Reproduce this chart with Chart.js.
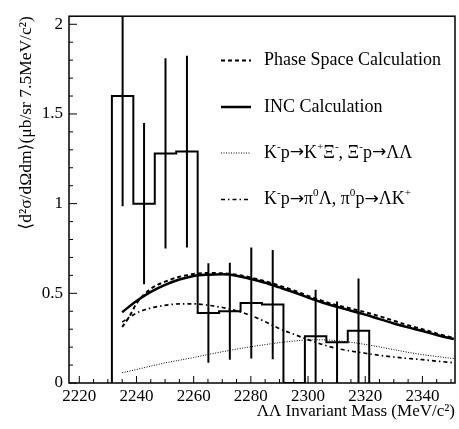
<!DOCTYPE html>
<html>
<head>
<meta charset="utf-8">
<script src="https://cdn.jsdelivr.net/npm/chart.js@4.4.1/dist/chart.umd.min.js"></script>
<style>
  html, body { margin: 0; padding: 0; background: #fff; }
  #wrap { width: 459px; height: 429px; }
</style>
</head>
<body>
<div id="wrap"><canvas id="massChart" width="459" height="429"></canvas></div>
<script>
// --- DATA ---
// histogram: 7.5 MeV bins starting at the LambdaLambda threshold
const binLow    = [2231.4, 2238.9, 2246.4, 2253.9, 2261.4, 2268.9, 2276.4, 2283.9, 2291.4, 2298.9, 2306.4, 2313.9];
const binCenter = [2235.15, 2242.65, 2250.15, 2257.65, 2265.15, 2272.65, 2280.15, 2287.65, 2295.15, 2302.65, 2310.15, 2317.65];
const histEnd = 2321.4;
const binValue = [1.60, 1.00, 1.28, 1.29, 0.39, 0.40, 0.446, 0.437, 0, 0.26, 0.227, 0.292];
const binError = [0.615, 0.45, 0.53, 0.535, 0.277, 0.27, 0.31, 0.305, 0, 0.26, 0.227, 0.29];

// calculated curves
const curveMass = [2235, 2240, 2245, 2250, 2255, 2260, 2265, 2270, 2275, 2280, 2285, 2290,
                   2295, 2300, 2305, 2310, 2315, 2320, 2325, 2330, 2335, 2340, 2345, 2351];
const incCalc = [0.395, 0.457, 0.508, 0.547, 0.577, 0.597, 0.604, 0.606, 0.598, 0.580, 0.559, 0.533,
                 0.506, 0.476, 0.449, 0.425, 0.403, 0.381, 0.356, 0.332, 0.310, 0.290, 0.268, 0.245];
const kxiCalc = [0.057, 0.075, 0.094, 0.112, 0.127, 0.142, 0.159, 0.174, 0.189, 0.202, 0.214, 0.225,
                 0.234, 0.240, 0.241, 0.236, 0.227, 0.215, 0.201, 0.186, 0.171, 0.158, 0.148, 0.136];
const pi0Calc = [0.340, 0.390, 0.418, 0.433, 0.441, 0.441, 0.434, 0.421, 0.403, 0.376, 0.342, 0.303,
                 0.272, 0.242, 0.215, 0.193, 0.178, 0.166, 0.154, 0.145, 0.137, 0.130, 0.122, 0.113];
const psMass = [2235, 2237.5, 2240, 2245, 2250, 2255, 2260, 2265, 2270, 2275, 2280, 2285, 2290,
                2295, 2300, 2305, 2310, 2315, 2320, 2325, 2330, 2335, 2340, 2345, 2351];
const phaseSpace = [0.312, 0.370, 0.443, 0.525, 0.565, 0.592, 0.608, 0.613, 0.612, 0.604, 0.588, 0.567, 0.543,
                    0.516, 0.486, 0.458, 0.434, 0.415, 0.395, 0.372, 0.347, 0.322, 0.300, 0.276, 0.250];

// axes
const xTicks = [2220, 2240, 2260, 2280, 2300, 2320, 2340];
const xTickLabels = ['2220', '2240', '2260', '2280', '2300', '2320', '2340'];
const yTicks = [0, 0.5, 1, 1.5, 2];
const yTickLabels = ['0', '0.5', '1', '1.5', '2'];

// legend text, [text, kind] with kind 's' = superscript, 'a' = arrow
const legendRows = [
    { ds: 0, parts: [['Phase Space Calculation']] },
    { ds: 1, parts: [['INC Calculation']] },
    { ds: 2, parts: [['K'], ['-', 's'], ['p'], ['\u2192', 'a'], ['K'], ['+', 's'], ['\u039E'], ['-', 's'],
                     [', \u039E'], ['-', 's'], ['p'], ['\u2192', 'a'], ['\u039B\u039B']] },
    { ds: 3, parts: [['K'], ['-', 's'], ['p'], ['\u2192', 'a'], ['\u03C0'], ['0', 's'], ['\u039B, \u03C0'], ['0', 's'],
                     ['p'], ['\u2192', 'a'], ['\u039BK'], ['+', 's']] }
];

const SERIF = '"Liberation Serif", "DejaVu Serif", serif';

// --- BUILD DATASETS ---
const histPoints = [{ x: binLow[0], y: 0 }];
binLow.forEach((x, i) => histPoints.push({ x: x, y: binValue[i] }));
histPoints.push({ x: histEnd, y: 0 });

const errPoints = [];
binCenter.forEach((x, i) => {
    if (binError[i] <= 0) return;
    errPoints.push({ x: x, y: binValue[i] - binError[i] });
    errPoints.push({ x: x, y: binValue[i] + binError[i] });
    errPoints.push({ x: x, y: null });
});

const toXY = (xs, ys) => xs.map((x, i) => ({ x: x, y: ys[i] }));

// --- PLUGIN: frame, inward ticks, legend ---
function drawRich(ctx, parts, x, y, size) {
    parts.forEach(([txt, kind]) => {
        let dy = 0;
        if (kind === 's') {
            ctx.font = (size * 0.62) + 'px ' + SERIF;
            dy = -size * 0.42;
        } else if (kind === 'a') {
            ctx.font = (size * 0.95) + 'px "DejaVu Sans", sans-serif';
            dy = -size * 0.02;
        } else {
            ctx.font = size + 'px ' + SERIF;
        }
        ctx.fillText(txt, x, y + dy);
        x += ctx.measureText(txt).width;
    });
}

const framePlugin = {
    id: 'frame',
    afterDraw(chart) {
        const { ctx, chartArea: a, scales: { x, y } } = chart;
        ctx.save();
        ctx.strokeStyle = '#000';
        ctx.lineWidth = 1.5;
        ctx.strokeRect(a.left, a.top, a.right - a.left, a.bottom - a.top);

        ctx.lineWidth = 1;
        ctx.beginPath();
        for (let m = 2220; m <= 2350; m += 5) {
            const px = x.getPixelForValue(m);
            const len = (m % 20 === 0) ? 7 : 4;
            ctx.moveTo(px, a.bottom);
            ctx.lineTo(px, a.bottom - len);
        }
        for (let k = 0; k <= 20; k++) {
            const py = y.getPixelForValue(k / 10);
            const len = (k % 5 === 0) ? 8 : 4;
            ctx.moveTo(a.left, py);
            ctx.lineTo(a.left + len, py);
        }
        ctx.stroke();

        // legend
        ctx.fillStyle = '#000';
        ctx.textBaseline = 'alphabetic';
        ctx.textAlign = 'left';
        const rowY = [65, 111.5, 157.5, 204];
        legendRows.forEach((row, i) => {
            const ds = chart.data.datasets[row.ds];
            ctx.save();
            ctx.strokeStyle = ds.borderColor;
            ctx.lineWidth = ds.borderWidth;
            ctx.setLineDash(ds.borderDash || []);
            ctx.beginPath();
            ctx.moveTo(221, rowY[i] - 4.5);
            ctx.lineTo(251, rowY[i] - 4.5);
            ctx.stroke();
            ctx.restore();
            drawRich(ctx, row.parts, 264, rowY[i], 18);
        });
        ctx.restore();
    }
};

// --- CHART ---
const ctx = document.getElementById('massChart').getContext('2d');
new Chart(ctx, {
    type: 'line',
    data: {
        datasets: [
            {   // phase space
                data: toXY(psMass, phaseSpace),
                borderColor: '#000', borderWidth: 2, borderDash: [4, 3],
                pointRadius: 0, tension: 0.4, cubicInterpolationMode: 'monotone'
            },
            {   // INC
                data: toXY(curveMass, incCalc),
                borderColor: '#000', borderWidth: 2.5,
                pointRadius: 0, tension: 0.4, cubicInterpolationMode: 'monotone'
            },
            {   // K- p -> K+ Xi-
                data: toXY(curveMass, kxiCalc),
                borderColor: '#000', borderWidth: 1, borderDash: [1, 1.5],
                pointRadius: 0, tension: 0.4, cubicInterpolationMode: 'monotone'
            },
            {   // K- p -> pi0 Lambda
                data: toXY(curveMass, pi0Calc),
                borderColor: '#000', borderWidth: 1.7, borderDash: [4, 3, 1.5, 3],
                pointRadius: 0, tension: 0.4, cubicInterpolationMode: 'monotone'
            },
            {   // data histogram
                data: histPoints,
                borderColor: '#000', borderWidth: 2, stepped: 'before',
                pointRadius: 0
            },
            {   // error bars
                data: errPoints,
                borderColor: '#000', borderWidth: 2, spanGaps: false,
                pointRadius: 0
            }
        ]
    },
    options: {
        responsive: false,
        animation: false,
        layout: { padding: { top: 7, right: 4, left: 0, bottom: 0 } },
        plugins: { legend: { display: false }, tooltip: { enabled: false } },
        scales: {
            x: {
                type: 'linear', min: 2216.4, max: 2351.4,
                afterBuildTicks: (s) => { s.ticks = xTicks.map(v => ({ value: v })); },
                afterFit: (s) => { s.height = 46; },
                grid: { display: false, drawTicks: false },
                border: { display: false },
                ticks: { color: '#000', padding: 3, maxRotation: 0, autoSkip: false,
                         callback: (v, i) => xTickLabels[i],
                         font: { family: SERIF, size: 17 } },
                title: { display: true, text: '\u039B\u039B Invariant Mass (MeV/c\u00B2)', align: 'end',
                         color: '#000', font: { family: SERIF, size: 17 }, padding: { top: 0, bottom: 7 } }
            },
            y: {
                type: 'linear', min: 0, max: 2.045,
                afterBuildTicks: (s) => { s.ticks = yTicks.map(v => ({ value: v })); },
                afterFit: (s) => { s.width = 69; },
                grid: { display: false, drawTicks: false },
                border: { display: false },
                ticks: { color: '#000', padding: 6, autoSkip: false,
                         callback: (v, i) => yTickLabels[i],
                         font: { family: SERIF, size: 17 } },
                title: { display: true, text: '\u27E8d\u00B2\u03C3/d\u03A9dm\u27E9(\u03BCb/sr 7.5MeV/c\u00B2)', align: 'end',
                         color: '#000', font: { family: SERIF, size: 17.5 }, padding: { top: 16, bottom: 0 } }
            }
        }
    },
    plugins: [framePlugin]
});
</script>
</body>
</html>
